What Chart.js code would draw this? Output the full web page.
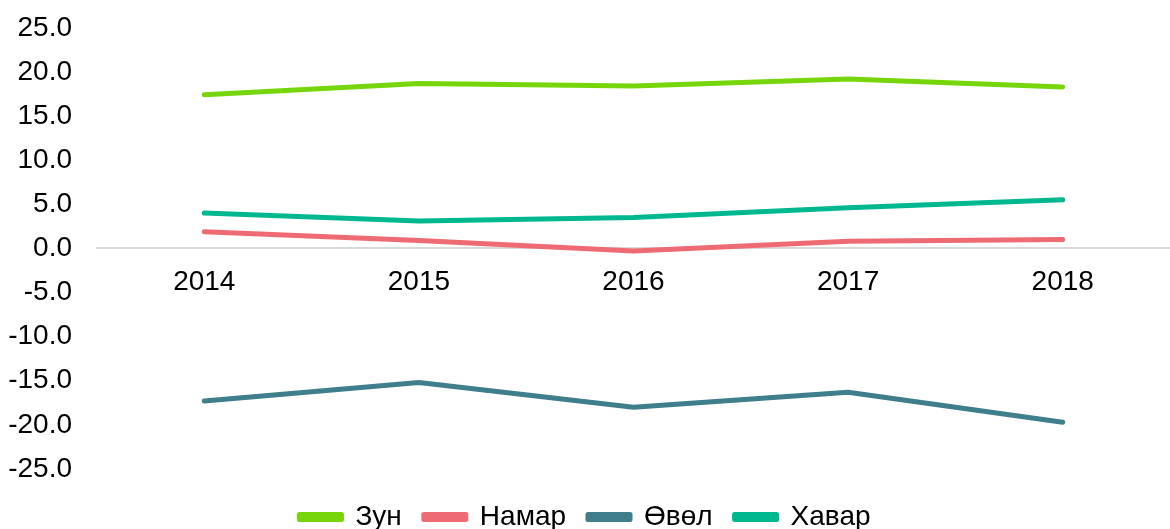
<!DOCTYPE html>
<html>
<head>
<meta charset="utf-8">
<script src="https://cdn.jsdelivr.net/npm/chart.js@4/dist/chart.umd.min.js"></script>
<style>
  body { margin: 0; background: #fff; }
  #wrap { width: 1170px; height: 529px; position: relative; }
</style>
</head>
<body>
<div id="wrap"><canvas id="chart"></canvas></div>
<script>
const years = ['2014', '2015', '2016', '2017', '2018'];
const zun = [17.4, 18.7, 18.4, 19.2, 18.3];
const namar = [1.9, 0.9, -0.3, 0.8, 1.0];
const uvul = [-17.3, -15.2, -18.0, -16.3, -19.7];
const khavar = [4.0, 3.1, 3.5, 4.6, 5.5];

const seriesNames = ['Зун', 'Намар', 'Өвөл', 'Хавар'];
const seriesColors = ['#76d60b', '#ee6b73', '#3f7e8b', '#00b890'];

const family = '"Liberation Sans", Arial, sans-serif';

const makeSet = (label, data, color) => ({
    label: label,
    data: data,
    borderColor: color,
    backgroundColor: color,
    borderWidth: 5,
    borderCapStyle: 'round',
    borderJoinStyle: 'round',
    pointRadius: 0,
    tension: 0,
    fill: false
});

// legenda troche nizej, blizej dolnej krawedzi
const legendShift = {
    id: 'legendShift',
    afterLayout(chart) {
        if (chart.legend) {
            chart.legend.top += 12;
            chart.legend.bottom += 12;
        }
    }
};

new Chart(document.getElementById('chart').getContext('2d'), {
    type: 'line',
    data: {
        labels: years,
        datasets: [
            makeSet(seriesNames[0], zun, seriesColors[0]),
            makeSet(seriesNames[1], namar, seriesColors[1]),
            makeSet(seriesNames[2], uvul, seriesColors[2]),
            makeSet(seriesNames[3], khavar, seriesColors[3])
        ]
    },
    plugins: [legendShift],
    options: {
        responsive: true,
        maintainAspectRatio: false,
        animation: false,
        layout: { padding: 0 },
        scales: {
            x: {
                position: { y: 0 },
                offset: true,
                grid: { display: false, drawTicks: false },
                border: { display: true, color: '#d9d9d9', width: 2 },
                ticks: { color: '#000', font: { family: family, size: 28 }, padding: 17, maxRotation: 0 }
            },
            y: {
                min: -25,
                max: 25,
                afterFit: (scale) => { scale.width = 97; },
                grid: { display: false, drawTicks: false },
                border: { display: false },
                ticks: {
                    stepSize: 5,
                    color: '#000',
                    font: { family: family, size: 28, lineHeight: 0.2 },
                    padding: 25,
                    callback: (v) => v.toFixed(1)
                }
            }
        },
        plugins: {
            legend: {
                position: 'bottom',
                labels: {
                    color: '#000',
                    font: { family: family, size: 28, lineHeight: 1 },
                    boxWidth: 42,
                    boxHeight: 5,
                    padding: 22
                }
            },
            tooltip: { enabled: false }
        }
    }
});
</script>
</body>
</html>
